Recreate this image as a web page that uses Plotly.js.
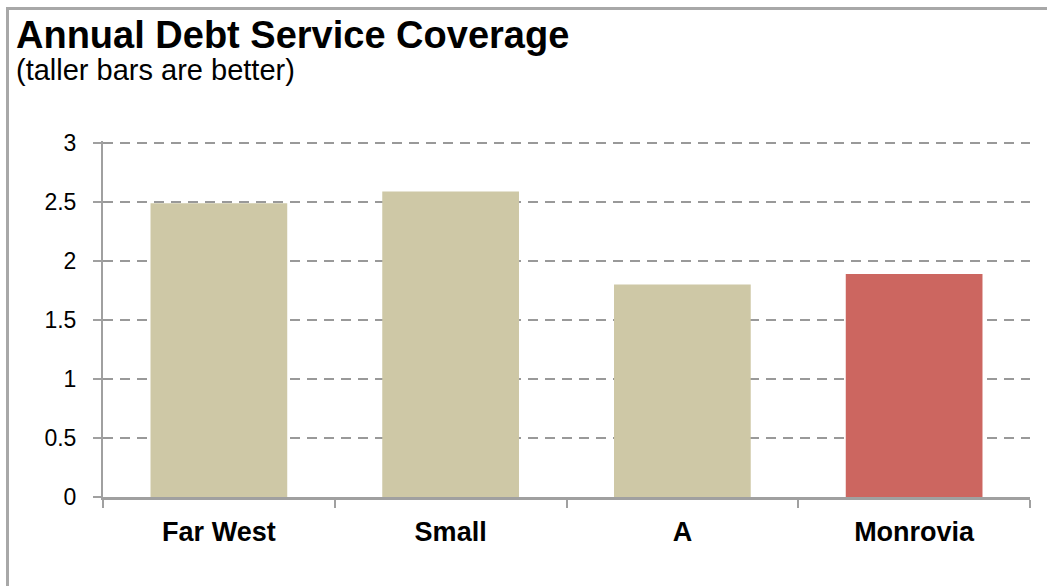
<!DOCTYPE html>
<html>
<head>
<meta charset="utf-8">
<script src="https://cdn.plot.ly/plotly-3.0.1.min.js"></script>
<style>
  html, body { margin: 0; padding: 0; background: #fff; }
  #wrap { position: relative; width: 1047px; height: 586px; overflow: hidden; }
  #chart { position: absolute; left: 0; top: 0; width: 1047px; height: 586px; }
  #frame { position: absolute; left: 6px; top: 7px; width: 1100px; height: 700px;
           border-left: 3px solid #a8a8a8; border-top: 3px solid #a8a8a8; pointer-events: none; }
</style>
</head>
<body>
<div id="wrap">
  <div id="chart"></div>
  <div id="frame"></div>
</div>
<script>
const categories = ["Far West", "Small", "A", "Monrovia"];
const coverage = [2.49, 2.59, 1.8, 1.89];
const barColors = ["#CEC8A6", "#CEC8A6", "#CEC8A6", "#CC6660"];
const yTicks = [0, 0.5, 1, 1.5, 2, 2.5, 3];
const yTickLabels = ["0", "0.5", "1", "1.5", "2", "2.5", "3"];
const titleText = "Annual Debt Service Coverage";
const subtitleText = "(taller bars are better)";

const FONT = "Liberation Sans, Arial, Helvetica, sans-serif";

const trace = {
  type: "bar",
  x: categories,
  y: coverage,
  marker: { color: barColors },
  hoverinfo: "x+y"
};

const layout = {
  width: 1047,
  height: 586,
  margin: { l: 103, r: 17, t: 141, b: 89, pad: 0 },
  paper_bgcolor: "#ffffff",
  plot_bgcolor: "#ffffff",
  showlegend: false,
  bargap: 0.41,
  font: { family: FONT, color: "#000" },
  xaxis: {
    type: "category",
    tickson: "boundaries",
    ticks: "outside",
    ticklen: 8,
    tickwidth: 2,
    tickcolor: "#a0a0a0",
    showline: true,
    linecolor: "#a0a0a0",
    linewidth: 3,
    showgrid: false,
    zeroline: false,
    tickfont: { family: FONT, size: 27, color: "#000", weight: "bold" },
    ticklabelstandoff: 9
  },
  yaxis: {
    range: [0, 3.017],
    tickvals: yTicks,
    ticktext: yTickLabels,
    ticks: "outside",
    ticklen: 8,
    tickwidth: 2,
    tickcolor: "#a0a0a0",
    showline: true,
    linecolor: "#a0a0a0",
    linewidth: 2,
    showgrid: true,
    gridcolor: "#999999",
    gridwidth: 2.5,
    griddash: "10px,7px",
    zeroline: false,
    tickfont: { family: FONT, size: 23, color: "#000" },
    ticklabelstandoff: 12
  },
  annotations: [
    {
      text: "<b>" + titleText + "</b>",
      xref: "paper", yref: "paper",
      x: (14 - 103) / 927, y: (497 - 35) / 356,
      xanchor: "left", yanchor: "middle",
      showarrow: false,
      font: { family: FONT, size: 38, color: "#000" }
    },
    {
      text: subtitleText,
      xref: "paper", yref: "paper",
      x: (14 - 103) / 927, y: (497 - 70) / 356,
      xanchor: "left", yanchor: "middle",
      showarrow: false,
      font: { family: FONT, size: 29, color: "#000" }
    }
  ]
};

Plotly.newPlot("chart", [trace], layout, { displayModeBar: false, staticPlot: true });
</script>
</body>
</html>
